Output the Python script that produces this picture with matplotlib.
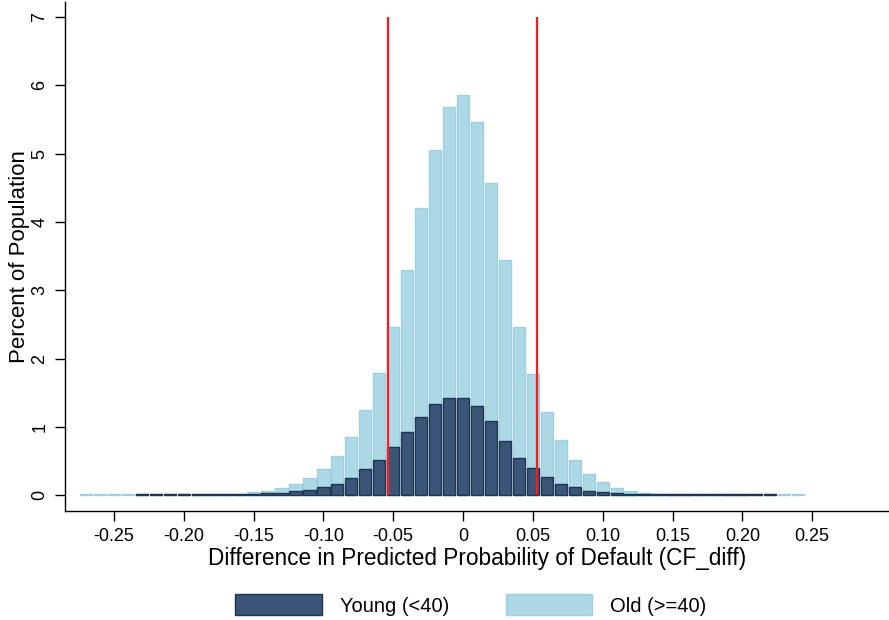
import matplotlib
matplotlib.use("Agg")
import matplotlib.pyplot as plt
from matplotlib.patches import Patch

plt.rcParams['font.family'] = ['Liberation Sans', 'DejaVu Sans']
plt.rcParams['axes.unicode_minus'] = False

# bin centers (CF_diff)
bin_centers = [-0.27, -0.26, -0.25, -0.24, -0.23, -0.22, -0.21, -0.20, -0.19, -0.18,
               -0.17, -0.16, -0.15, -0.14, -0.13, -0.12, -0.11, -0.10, -0.09, -0.08,
               -0.07, -0.06, -0.05, -0.04, -0.03, -0.02, -0.01, 0.00, 0.01, 0.02,
               0.03, 0.04, 0.05, 0.06, 0.07, 0.08, 0.09, 0.10, 0.11, 0.12,
               0.13, 0.14, 0.15, 0.16, 0.17, 0.18, 0.19, 0.20, 0.21, 0.22,
               0.23, 0.24]

old_pct = [0.015, 0.015, 0.015, 0.015, 0.015, 0.015, 0.015, 0.015, 0.015, 0.015,
           0.02, 0.025, 0.05, 0.065, 0.10, 0.16, 0.25, 0.39, 0.57, 0.86,
           1.25, 1.79, 2.47, 3.30, 4.20, 5.05, 5.68, 5.86, 5.46, 4.57,
           3.45, 2.47, 1.77, 1.22, 0.81, 0.52, 0.31, 0.19, 0.11, 0.07,
           0.04, 0.02, 0.015, 0.015, 0.015, 0.015, 0.015, 0.015, 0.015, 0.015,
           0.015, 0.015]

young_pct = [0, 0, 0, 0, 0.015, 0.015, 0.015, 0.015, 0.015, 0.015,
             0.015, 0.015, 0.02, 0.03, 0.04, 0.06, 0.08, 0.12, 0.17, 0.26,
             0.38, 0.52, 0.70, 0.92, 1.14, 1.33, 1.43, 1.42, 1.31, 1.09,
             0.80, 0.55, 0.40, 0.27, 0.17, 0.12, 0.07, 0.05, 0.03, 0.02,
             0.015, 0.015, 0.015, 0.015, 0.015, 0.015, 0.015, 0.015, 0.015, 0.015,
             0, 0]

cutoffs = [-0.054, 0.053]
x_ticks = [-0.25, -0.20, -0.15, -0.10, -0.05, 0, 0.05, 0.10, 0.15, 0.20, 0.25]
x_tick_labels = ["-0.25", "-0.20", "-0.15", "-0.10", "-0.05", "0", "0.05", "0.10", "0.15", "0.20", "0.25"]
y_ticks = [0, 1, 2, 3, 4, 5, 6, 7]

LIGHT = '#add8e6'
LIGHT_EDGE = '#9fcfe0'
DARK = '#3a5576'
DARK_EDGE = '#1d3557'

fig = plt.figure(figsize=(8.89, 6.2), dpi=100)
ax = fig.add_axes([65/889, 109/620, 1 - 65/889, 509/620])

ax.bar(bin_centers, old_pct, width=0.0088, color=LIGHT, edgecolor=LIGHT_EDGE, linewidth=1.0, zorder=2)
young_x = [x for x, v in zip(bin_centers, young_pct) if v > 0]
young_v = [v for v in young_pct if v > 0]
ax.bar(young_x, young_v, width=0.0088, color=DARK, edgecolor=DARK_EDGE, linewidth=1.0, zorder=3)

for c in cutoffs:
    ax.plot([c, c], [0, 7], color='#ff1a1a', linewidth=1.6, zorder=4, solid_capstyle='butt')

ax.set_xlim(-0.285, 0.305)
ax.set_ylim(-0.23, 7.22)
for s in ['top', 'right']:
    ax.spines[s].set_visible(False)
for s in ['left', 'bottom']:
    ax.spines[s].set_linewidth(1.0)
ax.set_xticks(x_ticks)
ax.set_xticklabels(x_tick_labels)
ax.set_yticks(y_ticks)
ax.set_yticklabels([str(t) for t in y_ticks], rotation=90, va='center')
ax.tick_params(axis='both', length=7, width=1.0, labelsize=13, pad=5)
ax.set_xlabel("Difference in Predicted Probability of Default (CF_diff)", fontsize=16.3, labelpad=2)
ax.set_ylabel("Percent of Population", fontsize=16, labelpad=1)

handles = [Patch(facecolor=DARK, edgecolor=DARK_EDGE, label='Young (<40)'),
           Patch(facecolor=LIGHT, edgecolor=LIGHT_EDGE, label='Old (>=40)')]
fig.legend(handles=handles, loc='center', bbox_to_anchor=(471/889, 1 - 605/620), ncol=2,
           frameon=False, fontsize=14.5, handlelength=4.3, handleheight=1.2,
           columnspacing=2.8, handletextpad=0.9)

fig.savefig('out.png', dpi=100)
